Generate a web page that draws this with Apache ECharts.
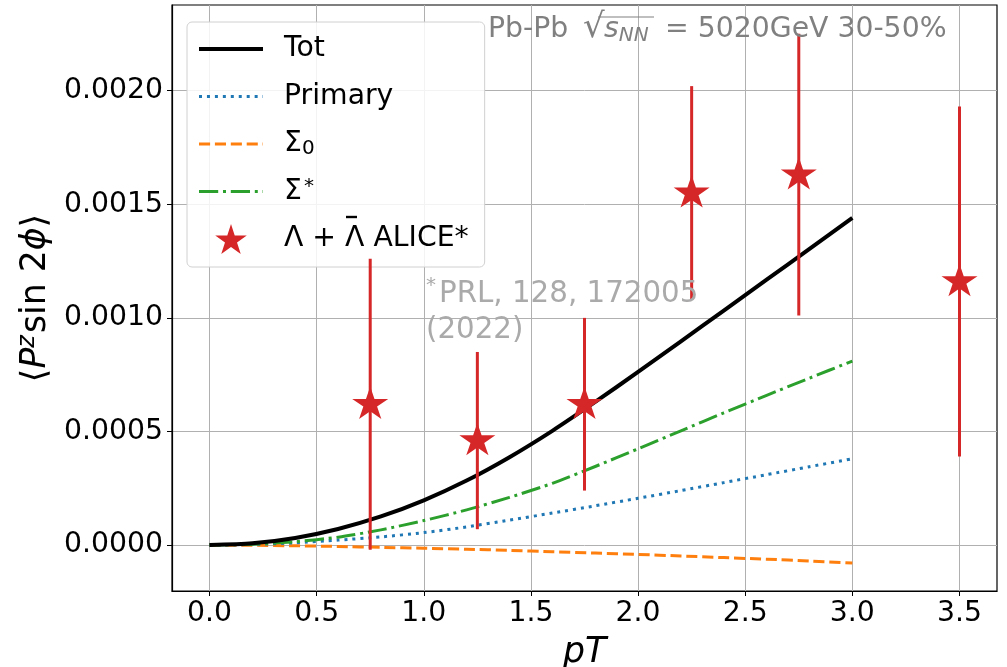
<!DOCTYPE html>
<html><head><meta charset="utf-8">
<script src="https://cdn.jsdelivr.net/npm/echarts@6/dist/echarts.min.js"></script>
<style>html,body{margin:0;padding:0;background:#fff}#c{width:1007px;height:667px}</style>
</head><body><div id="c"></div>
<script>
// ---- data ----
const pT = [0, 0.2, 0.4, 0.6, 0.8, 1.0, 1.2, 1.4, 1.6, 1.8, 2.0, 2.2, 2.4, 2.6, 2.8, 3.0];
const tot = [0, 0.0000079, 0.0000315, 0.000071, 0.000126, 0.000197, 0.000284, 0.000387, 0.000503, 0.00063, 0.000762, 0.000897, 0.001032, 0.001168, 0.001304, 0.00144];
const primary = [0, 0.000003, 0.00001, 0.000022, 0.000036, 0.000055, 0.00008, 0.00011, 0.000141, 0.000173, 0.000206, 0.00024, 0.000275, 0.00031, 0.000345, 0.00038];
const sigma0 = [0, -0.000001, -0.000003, -0.000006, -0.00001, -0.000014, -0.000018, -0.000023, -0.000029, -0.000035, -0.000041, -0.000048, -0.000055, -0.000062, -0.00007, -0.000079];
const sigmaStar = [0, 0.000004, 0.000015, 0.000035, 0.000067, 0.000108, 0.000155, 0.00021, 0.000272, 0.000346, 0.000424, 0.000503, 0.000582, 0.000659, 0.000735, 0.00081];
const aliceX = [0.75, 1.25, 1.75, 2.25, 2.75, 3.5];
const aliceY = [0.00062, 0.00046, 0.00062, 0.00155, 0.00163, 0.00116];
const aliceErr = [0.00064, 0.00039, 0.00038, 0.00047, 0.00062, 0.00077];
const xTicks = [0, 0.5, 1.0, 1.5, 2.0, 2.5, 3.0, 3.5];
const yTicks = [0, 0.0005, 0.0010, 0.0015, 0.0020];
const names = ['Tot', 'Primary', 'Σ0', 'Σ*', 'ALICE'];

const FONT = 'DejaVu Sans';
const FS = 28.3;
const STAR = 'path://M0 -1 L0.2245 -0.309 L0.951 -0.309 L0.363 0.118 L0.588 0.809 L0 0.382 L-0.588 0.809 L-0.363 0.118 L-0.951 -0.309 L-0.2245 -0.309 Z';
const zip = (xs, ys) => xs.map((x, i) => [x, ys[i]]);
const widths = {'Tot': 4, 'Primary': 3, 'Σ0': 3, 'Σ*': 3};

const chart = echarts.init(document.getElementById('c'), null, {renderer: 'canvas'});
const lineSeries = (name, data, color, type, z) => ({
  name, type: 'line', data: zip(pT, data), symbol: 'none', smooth: 0.25, z,
  lineStyle: {color, width: widths[name], type, cap: 'butt', join: 'round'}, itemStyle: {color}, animation: false
});
const legendItem = n => n === 'ALICE' ? {name: n}
  : {name: n, itemStyle: {opacity: 0, borderWidth: 0}, lineStyle: {width: widths[n]}};

chart.setOption({
  animation: false,
  grid: {left: 172, right: 10, top: 5, bottom: 76, show: true, borderColor: '#000', borderWidth: 1.2,
         containLabel: false, outerBoundsMode: 'none'},
  xAxis: {
    type: 'value', min: -0.175, max: 3.675,
    axisLine: {show: true, onZero: false, lineStyle: {color: '#000', width: 1.2}},
    axisTick: {show: true, inside: false, length: 5, lineStyle: {color: '#000', width: 1}, customValues: xTicks},
    axisLabel: {customValues: xTicks, formatter: v => v.toFixed(1), fontSize: FS, fontFamily: FONT, color: '#000', margin: 9},
    splitLine: {show: true, lineStyle: {color: '#b0b0b0', width: 1}},
    name: 'pT', nameLocation: 'middle', nameGap: 44,
    nameTextStyle: {fontSize: 34.7, fontFamily: FONT, fontStyle: 'italic', color: '#000'}
  },
  yAxis: {
    type: 'value', min: -0.000202, max: 0.002377,
    axisLine: {show: true, onZero: false, lineStyle: {color: '#000', width: 1.2}},
    axisTick: {show: true, inside: false, length: 5, lineStyle: {color: '#000', width: 1}, customValues: yTicks},
    axisLabel: {customValues: yTicks, formatter: v => v.toFixed(4), fontSize: FS, fontFamily: FONT, color: '#000', margin: 9},
    splitLine: {show: true, lineStyle: {color: '#b0b0b0', width: 1}},
    name: '⟨{i|P}{sup|z}sin 2{i|ϕ}⟩', nameLocation: 'middle', nameGap: 109, nameRotate: 90,
    nameTextStyle: {fontSize: 34.7, fontFamily: FONT, color: '#000',
      rich: {i: {fontSize: 34.7, fontFamily: FONT, fontStyle: 'italic'},
             sup: {fontSize: 24, fontFamily: FONT, fontStyle: 'italic', verticalAlign: 'top', padding: [0, 2, 16, 0]}}}
  },
  legend: {
    show: true, orient: 'vertical', left: 187, top: 22,
    width: 292,
    padding: [12, 16, 13, 10],
    backgroundColor: 'rgba(255,255,255,0.85)', borderColor: '#d0d0d0', borderWidth: 1, borderRadius: 5,
    itemWidth: 64, itemHeight: 30, itemGap: 17.5,
    data: names.map(legendItem),
    formatter: n => ({'Tot': 'Tot', 'Primary': 'Primary', 'Σ0': 'Σ{sub|0}', 'Σ*': 'Σ{sup|*}', 'ALICE': 'Λ + Λ ALICE*'})[n],
    textStyle: {fontSize: FS, fontFamily: FONT, color: '#000', padding: [0, 0, 0, 16], lineHeight: 30,
      rich: {sub: {fontSize: 20, fontFamily: FONT, verticalAlign: 'bottom', padding: [12, 0, 0, 0]},
             sup: {fontSize: 20, fontFamily: FONT, verticalAlign: 'top', padding: [0, 0, 14, 2]}}}
  },
  graphic: [
    // macron over the second Λ in the legend (Λ̄)
    {type: 'line', z: 60, shape: {x1: 346, y1: 217, x2: 357, y2: 217}, style: {stroke: '#000', lineWidth: 2.4}},
    {type: 'text', left: 488, top: 16, z: 50,
     style: {text: 'Pb-Pb', fill: '#808080', font: FS + 'px "DejaVu Sans"'}},
    {type: 'text', left: 583, top: 11, z: 50,
     style: {text: '√', fill: '#808080', font: '34px "DejaVu Sans"'}},
    {type: 'text', left: 604, top: 16, z: 50,
     style: {text: '{s|s}{sub|NN}', fill: '#808080', font: FS + 'px "DejaVu Sans"',
       rich: {s: {fontSize: FS, fontFamily: FONT, fontStyle: 'italic', fill: '#808080'},
              sub: {fontSize: 20, fontFamily: FONT, fontStyle: 'italic', fill: '#808080', verticalAlign: 'bottom', padding: [12, 0, 0, 0]}}}},
    {type: 'line', z: 50, shape: {x1: 598, y1: 17, x2: 654, y2: 17}, style: {stroke: '#808080', lineWidth: 1.2}},
    {type: 'text', left: 665, top: 16, z: 50,
     style: {text: '= 5020GeV 30-50%', fill: '#808080', font: FS + 'px "DejaVu Sans"'}},
    {type: 'text', left: 426, top: 276, z: 50,
     style: {text: '{sup|*}PRL, 128, 172005\n(2022)', fill: '#aaaaaa', font: '29.3px "DejaVu Sans"', lineHeight: 36,
       rich: {sup: {fontSize: 20, fontFamily: FONT, fill: '#aaaaaa', verticalAlign: 'top', padding: [0, 3, 12, 0]}}}}
  ],
  series: [
    lineSeries('Tot', tot, '#000000', 'solid', 5),
    lineSeries('Primary', primary, '#1f77b4', [3, 4.95], 4),
    lineSeries('Σ0', sigma0, '#ff7f0e', [11.1, 4.8], 3),
    lineSeries('Σ*', sigmaStar, '#2ca02c', [19.2, 4.8, 3, 4.8], 4),
    {
      name: 'ALICE-err', type: 'custom', z: 6, silent: true,
      data: aliceX.map((x, i) => [x, aliceY[i] - aliceErr[i], aliceY[i] + aliceErr[i]]),
      renderItem: (params, api) => {
        const p1 = api.coord([api.value(0), api.value(1)]);
        const p2 = api.coord([api.value(0), api.value(2)]);
        return {type: 'line', shape: {x1: p1[0], y1: p1[1], x2: p2[0], y2: p2[1]},
                style: {stroke: '#d62728', lineWidth: 3}};
      }
    },
    {
      name: 'ALICE', type: 'scatter', z: 7, data: zip(aliceX, aliceY),
      symbol: STAR, symbolSize: [36, 34], symbolKeepAspect: true, symbolOffset: [0, -1.5],
      itemStyle: {color: '#d62728', opacity: 1}
    }
  ]
});
</script></body></html>
